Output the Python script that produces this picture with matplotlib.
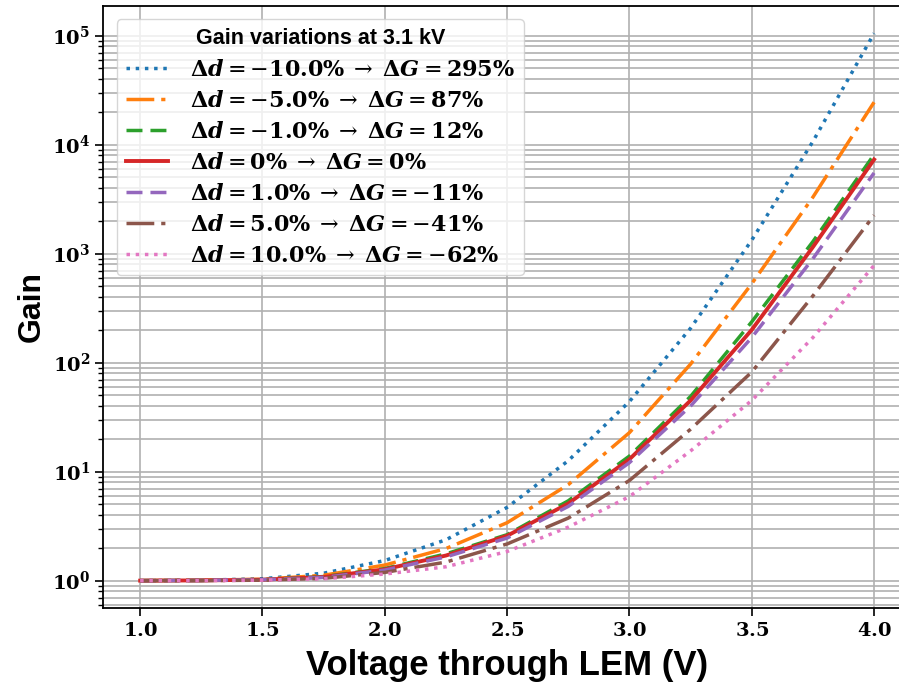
import matplotlib
matplotlib.use('Agg')
import matplotlib.pyplot as plt
from matplotlib.ticker import FuncFormatter, LogLocator
import numpy as np

plt.rcParams['mathtext.fontset'] = 'dejavuserif'

# voltage through LEM (kV) and gain for each thickness variation
voltage = [1.0, 1.25, 1.5, 1.75, 2.0, 2.25, 2.5, 2.75, 3.0, 3.25, 3.5, 3.75, 4.0]
gain_m10 = [1.0, 1.01, 1.04, 1.17, 1.53, 2.37, 4.7, 12.6, 44, 207, 1330, 10700, 105000]
gain_m5 = [1.0, 1.01, 1.03, 1.12, 1.39, 1.97, 3.4, 7.6, 22.8, 97, 530, 3300, 24500]
gain_m1 = [1.0, 1.005, 1.02, 1.09, 1.29, 1.76, 2.64, 5.4, 13.9, 49, 237, 1290, 8100]
gain_0 = [1.0, 1.005, 1.02, 1.08, 1.27, 1.70, 2.58, 5.1, 13.0, 45, 200, 1150, 7300]
gain_p1 = [1.0, 1.005, 1.02, 1.07, 1.25, 1.65, 2.46, 4.8, 12.1, 40, 170, 900, 5500]
gain_p5 = [1.0, 1.0, 1.01, 1.05, 1.19, 1.48, 2.17, 3.75, 8.3, 24.5, 82, 410, 2250]
gain_p10 = [1.0, 1.0, 1.01, 1.04, 1.15, 1.34, 1.85, 3.1, 5.9, 15.5, 45, 170, 780]

delta_d = ['-10.0', '-5.0', '-1.0', '0', '1.0', '5.0', '10.0']
delta_g = ['295', '87', '12', '0', '-11', '-41', '-62']

gains = [gain_m10, gain_m5, gain_m1, gain_0, gain_p1, gain_p5, gain_p10]
colors = ['#1f77b4', '#ff7f0e', '#2ca02c', '#d62728', '#9467bd', '#8c564b', '#e377c2']
dashes = [(1, 1.65), (8, 2, 1.2, 2), (4.6, 2.3), None, (4.6, 2.3), (8, 2, 1.2, 2), (1, 1.65)]


def make_label(dd, dg):
    def num(s):
        if s.startswith('-'):
            return r'{-\mathbf{%s\%%}}' % s[1:]
        return r'\mathbf{%s\%%}' % s
    return (r'$\mathbf{\Delta}\boldsymbol{d} = ' + num(dd) +
            r'\;\rightarrow\;\mathbf{\Delta}\boldsymbol{G} = ' + num(dg) + '$')


fig = plt.figure(figsize=(8.99, 6.86), dpi=100)
ax = fig.add_axes([0.1151, 0.1137, 0.898, 0.8776])

for g, dd, dg, c, d in zip(gains, delta_d, delta_g, colors, dashes):
    lab = make_label(dd, dg)
    if d is None:
        ax.plot(voltage, g, color=c, lw=2.8, label=lab)
    else:
        ax.plot(voltage, g, color=c, lw=2.5, dashes=d, label=lab)

ax.set_yscale('log')
ax.yaxis.set_minor_locator(LogLocator(base=10, subs=np.arange(2, 10), numticks=20))
ax.grid(True, which='major', color='#b0b0b0', lw=1.2)
ax.grid(True, which='minor', axis='y', color='#b0b0b0', lw=1.2)
ax.set_axisbelow(True)

ax.xaxis.set_major_formatter(FuncFormatter(lambda v, p: r'$\mathbf{%.1f}$' % v))
ax.yaxis.set_major_formatter(FuncFormatter(
    lambda v, p: r'$\mathbf{10^{%d}}$' % int(round(np.log10(v)))))
ax.tick_params(axis='both', which='major', labelsize=14, length=6, width=1.2)
ax.tick_params(axis='y', which='minor', length=3.5, width=1)
for s in ax.spines.values():
    s.set_linewidth(1.3)

ax.set_xlabel('Voltage through LEM (V)', labelpad=6, family='Liberation Sans',
              weight='bold', size=25)
ax.set_ylabel('Gain', labelpad=4, family='Liberation Sans', weight='bold', size=23)

leg = ax.legend(loc='upper left', fontsize=16, handlelength=1.9, handletextpad=1.0,
                labelspacing=0.45, title='Gain variations at 3.1 kV', borderaxespad=0.6)
leg.get_title().set_fontweight('bold')
leg.get_title().set_fontsize(15.5)
leg.get_title().set_family('Liberation Sans')

plt.savefig('out.png', dpi=100)
